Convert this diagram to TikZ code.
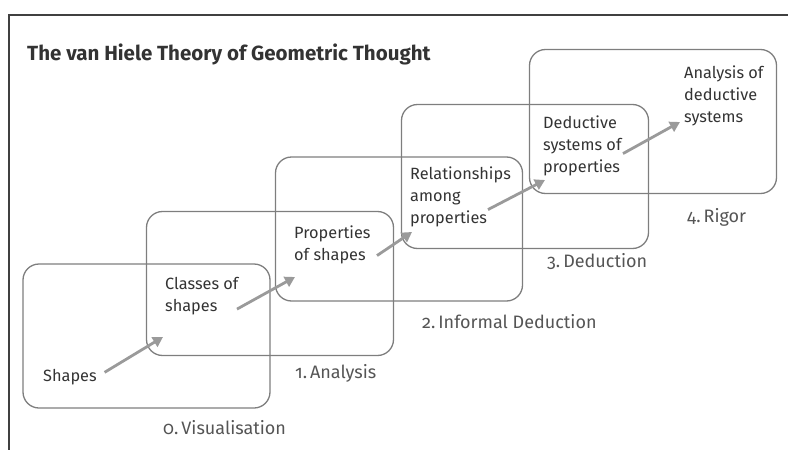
\documentclass[tikz,border=0pt]{standalone}
\usepackage{fontspec}
\setmainfont{Fira Sans}[Numbers=OldStyle]
\usepackage{xcolor}
\definecolor{frame}{HTML}{404040}
\definecolor{edge}{HTML}{7E7E7E}
\definecolor{pointer}{HTML}{9A9A9A}
\definecolor{ink}{HTML}{333333}
\definecolor{soft}{HTML}{555555}
\usetikzlibrary{positioning,calc,arrows.meta}

\begin{document}
\begin{tikzpicture}[x=1pt,y=-1pt,font=\fontsize{16.3}{22}\selectfont,
  stage/.style={draw=edge,line width=1.3pt,rounded corners=16pt,
    minimum width=247pt,minimum height=144pt,inner sep=0pt},
  idea/.style={anchor=north west,align=left,inner sep=0pt,text=ink},
  lvl/.style={anchor=west,inner sep=0pt,text=soft,font=\fontsize{18}{20}\selectfont},
  arr/.style={pointer,line width=2.8pt,-{Triangle[length=10pt,width=11pt]}}]
  \useasboundingbox (0,0) rectangle (788,450);
  \draw[frame,line width=2.2pt] (9,450) -- (9,15) -- (788,15);
  \node[anchor=base west,inner sep=0pt,text=ink,font=\fontsize{20.5}{22}\selectfont\bfseries]
    (title) at (27,60) {The van Hiele Theory of Geometric Thought};
  % the five levels, stepping up to the right
  \foreach \i/\cx/\cy/\lx/\ly/\name in {
    0/146.5/336/163/428/{0.\,Visualisation},
    1/270/283.5/295/373/{1.\,Analysis},
    2/399/229/422/322/{2.\,Informal Deduction},
    3/525/176.5/547/262/{3.\,Deduction},
    4/653/121.5/687/217/{4.\,Rigor}} {
    \node[stage] (box\i) at (\cx,\cy) {};
    \node[lvl] (lvl\i) at (\lx,\ly) {\name};
  }
  \node[idea,anchor=west] (shapes) at (43,377) {Shapes};
  \node[idea] (classes) at (165,277) {Classes of\\shapes};
  \node[idea] (props) at (294,226) {Properties\\of shapes};
  \node[idea] (rels) at (410,167) {Relationships\\among\\properties};
  \node[idea] (deds) at (543,116) {Deductive\\systems of\\properties};
  \node[idea] (anal) at (684,66) {Analysis of\\deductive\\systems};
  \coordinate (tip1) at (163,337);
  \coordinate (tip2) at (295,277);
  \coordinate (tip3) at (412,232);
  \coordinate (tip4) at (545,180);
  \coordinate (tip5) at (680,122);
  \draw[arr,shorten <=9pt] (shapes.east) -- (tip1);
  \draw[arr] ([shift={(72,-6)}]classes.south west) -- (tip2);
  \draw[arr] ([shift={(83,-9)}]props.south west) -- (tip3);
  \draw[arr] ([shift={(78,-18)}]rels.south west) -- (tip4);
  \draw[arr] ([shift={(80,-23)}]deds.south west) -- (tip5);
\end{tikzpicture}
\end{document}
